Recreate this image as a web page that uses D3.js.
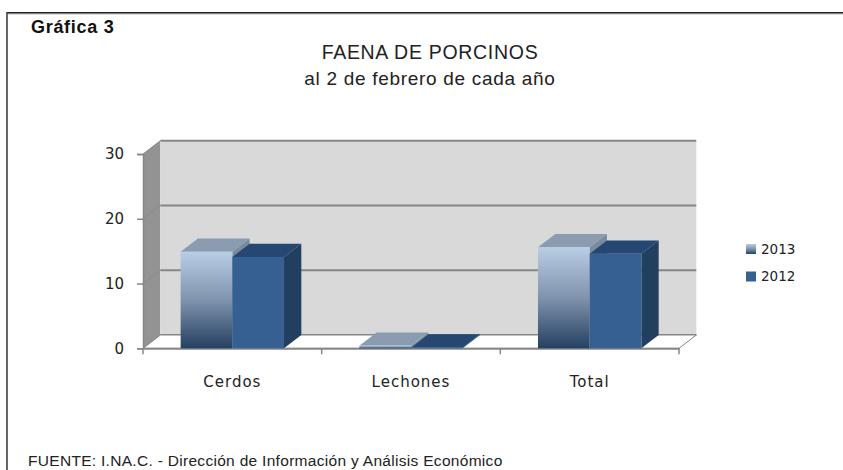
<!DOCTYPE html>
<html>
<head>
<meta charset="utf-8">
<script src="https://cdnjs.cloudflare.com/ajax/libs/d3/7.8.5/d3.min.js"></script>
<style>
  html, body { margin: 0; padding: 0; background: #fff; }
  svg { display: block; }
</style>
</head>
<body>
<div id="chart"></div>
<script>
const categories = ["Cerdos", "Lechones", "Total"];
const seriesNames = ["2013", "2012"];
const values2013 = [14.9, 0.4, 15.6];
const values2012 = [14.1, 0.1, 14.6];
const yTicks = [0, 10, 20, 30];

const width = 843, height = 470;
const plot = { left: 143, right: 679, top: 154, bottom: 348.3 };
const depth = { x: 17.3, y: 13.3 };

const x = d3.scaleBand().domain(categories).range([plot.left, plot.right]);
const xInner = d3.scaleBand().domain(seriesNames).range([0, x.bandwidth()]).paddingInner(0).paddingOuter(0.728);
const y = d3.scaleLinear().domain([0, 30]).range([plot.bottom, plot.top]);

const svg = d3.select("#chart").append("svg").attr("width", width).attr("height", height);

const defs = svg.append("defs");
const grad = defs.append("linearGradient").attr("id", "g2013").attr("x1", 0).attr("y1", 0).attr("x2", 0).attr("y2", 1);
grad.append("stop").attr("offset", "0%").attr("stop-color", "#b9cde5");
grad.append("stop").attr("offset", "50%").attr("stop-color", "#7f93ad");
grad.append("stop").attr("offset", "100%").attr("stop-color", "#254061");

// outer frame
svg.append("line").attr("x1", 8).attr("x2", width).attr("y1", 14).attr("y2", 14).attr("stroke", "#bbb").attr("stroke-width", 1);
svg.append("line").attr("x1", 7).attr("x2", width).attr("y1", 12.75).attr("y2", 12.75).attr("stroke", "#222").attr("stroke-width", 1.5);
svg.append("line").attr("x1", 7).attr("x2", 7).attr("y1", 12).attr("y2", height).attr("stroke", "#333").attr("stroke-width", 1.5);

const poly = pts => pts.map(p => p.join(",")).join(" ");

// walls
const gridColor = "#868686";
svg.append("polygon")
  .attr("points", poly([[plot.left, plot.bottom], [plot.left + depth.x, plot.bottom - depth.y], [plot.left + depth.x, plot.top - depth.y], [plot.left, plot.top]]))
  .attr("fill", "#939393");
svg.append("rect")
  .attr("x", plot.left + depth.x).attr("y", plot.top - depth.y + 0.5)
  .attr("width", plot.right - plot.left).attr("height", plot.bottom - plot.top)
  .attr("fill", "#d9d9d9");

// gridlines on back wall
svg.append("g").selectAll("line").data(yTicks).join("line")
  .attr("x1", plot.left + depth.x).attr("x2", plot.right + depth.x)
  .attr("y1", d => y(d) - depth.y).attr("y2", d => y(d) - depth.y)
  .attr("stroke", gridColor).attr("stroke-width", 2);

// floor
svg.append("polygon")
  .attr("points", poly([[plot.left, plot.bottom], [plot.left + depth.x, plot.bottom - depth.y], [plot.right + depth.x, plot.bottom - depth.y], [plot.right, plot.bottom]]))
  .attr("fill", "#fff").attr("stroke", gridColor).attr("stroke-width", 1);

// axes
const xAxis = svg.append("g").attr("transform", `translate(0,${plot.bottom})`)
  .call(d3.axisBottom(x).tickSize(0).tickPadding(28));
xAxis.select(".domain").attr("stroke", gridColor).attr("stroke-width", 2);
xAxis.selectAll("text").attr("font-family", "'DejaVu Sans'").attr("font-size", 15).attr("letter-spacing", 1).attr("fill", "#222");
xAxis.selectAll("line.edge").data([plot.left].concat(categories.map(c => x(c) + x.bandwidth()))).join("line")
  .attr("class", "edge").attr("x1", d => d).attr("x2", d => d).attr("y1", 0).attr("y2", 6)
  .attr("stroke", gridColor).attr("stroke-width", 1.5);

const yAxis = svg.append("g").attr("transform", `translate(${plot.left},0)`)
  .call(d3.axisLeft(y).tickValues(yTicks).tickSize(6).tickPadding(13));
yAxis.select(".domain").attr("stroke", gridColor).attr("stroke-width", 1.5);
yAxis.selectAll("line").attr("stroke", gridColor).attr("stroke-width", 1.5);
yAxis.selectAll("text").attr("font-family", "'DejaVu Sans'").attr("font-size", 15).attr("fill", "#222");

// diagonal joins from ticks to the wall
svg.append("g").selectAll("line").data(yTicks).join("line")
  .attr("x1", plot.left).attr("x2", plot.left + depth.x)
  .attr("y1", d => y(d)).attr("y2", d => y(d) - depth.y)
  .attr("stroke", "#8c8c8c").attr("stroke-width", 1);

// bars, 2012 drawn after 2013 so it sits on top
const series = [
  { name: "2013", values: values2013, front: "url(#g2013)", top: "#8b9cb1", side: "#7b8b9f" },
  { name: "2012", values: values2012, front: "#376092", top: "#254771", side: "#233f60" }
];

series.forEach(s => {
  const g = svg.append("g");
  categories.forEach((c, i) => {
    const x0 = x(c) + xInner(s.name), x1 = x0 + xInner.bandwidth();
    const yv = y(s.values[i]);
    g.append("polygon")
      .attr("points", poly([[x1, yv], [x1 + depth.x, yv - depth.y], [x1 + depth.x, plot.bottom - depth.y], [x1, plot.bottom]]))
      .attr("fill", s.side);
    g.append("polygon")
      .attr("points", poly([[x0, yv], [x0 + depth.x, yv - depth.y], [x1 + depth.x, yv - depth.y], [x1, yv]]))
      .attr("fill", s.top);
    g.append("rect")
      .attr("x", x0).attr("y", yv).attr("width", xInner.bandwidth()).attr("height", plot.bottom - yv)
      .attr("fill", s.front);
  });
});

// legend
const legend = svg.append("g").selectAll("g").data(series).join("g")
  .attr("transform", (d, i) => `translate(746,${244 + i * 27.5})`);
legend.append("rect").attr("width", 10).attr("height", 10).attr("fill", d => d.front);
legend.append("text").attr("x", 15).attr("y", 9.5).text(d => d.name)
  .attr("font-family", "'DejaVu Sans'").attr("font-size", 13.5).attr("fill", "#222");

// titles
const label = (txt, px, py, size, opts = {}) => svg.append("text")
  .attr("x", px).attr("y", py).text(txt)
  .attr("font-family", opts.family || "'Liberation Sans'")
  .attr("font-size", size)
  .attr("font-weight", opts.weight || "normal")
  .attr("letter-spacing", opts.spacing || 0)
  .attr("text-anchor", opts.anchor || "start")
  .attr("fill", opts.fill || "#222");

label("Gráfica 3", 31, 33, 18, { weight: "bold", fill: "#111", spacing: 0.7 });
label("FAENA DE PORCINOS", 430, 59, 19.5, { anchor: "middle", spacing: 0.7 });
label("al 2 de febrero de cada año", 430, 85, 19, { anchor: "middle", spacing: 0.7 });
label("FUENTE: I.NA.C. - Dirección de Información y Análisis Económico", 28, 466, 15.5, { spacing: 0.3 });
</script>
</body>
</html>
